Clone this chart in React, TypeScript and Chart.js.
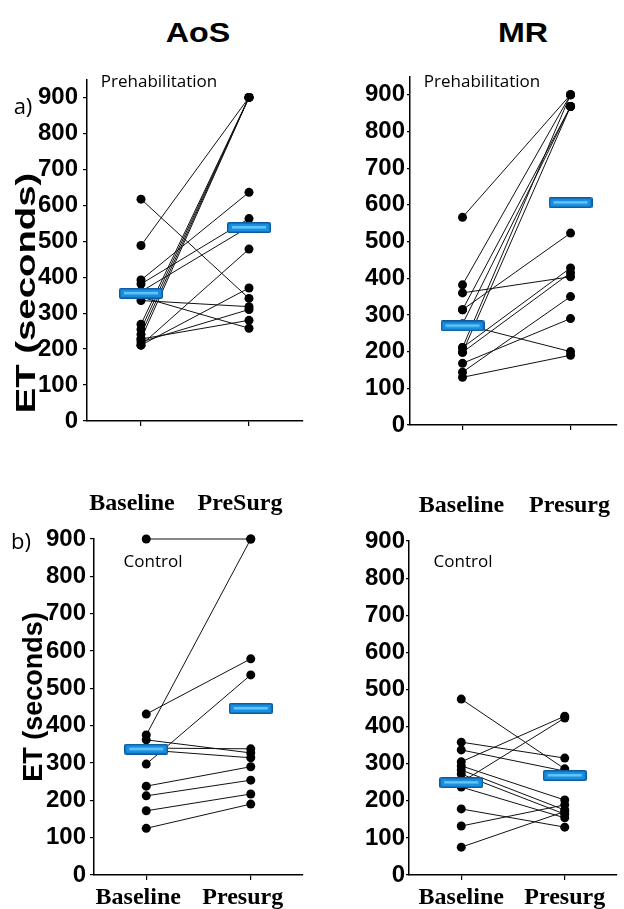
import React, { useEffect, useRef } from 'react';
import { Chart, registerables } from 'chart.js';

Chart.register(...registerables);

// ---- Data (seconds) ----
const yTickValues = [0, 100, 200, 300, 400, 500, 600, 700, 800, 900];
const labelsTop = ['Baseline', 'PreSurg'];
const labelsOther = ['Baseline', 'Presurg'];

// a) AoS – Prehabilitation
const aosPreBase = [488, 392, 617, 381, 360, 345, 335, 269, 255, 241, 228, 211, 211, 220, 228];
const aosPrePost = [900, 636, 341, 563, 540, 258, 318, 900, 900, 900, 900, 478, 370, 310, 280];
const aosPreMean = [355, 538];

// a) MR – Prehabilitation
const mrPreBase = [566, 382, 314, 275, 211, 198, 360, 314, 211, 198, 275, 144, 168, 130];
const mrPrePost = [900, 900, 868, 868, 900, 868, 404, 523, 428, 415, 200, 350, 290, 190];
const mrPreMean = [270, 606];

// b) AoS – Control
const aosCtlBase = [900, 431, 297, 375, 362, 340, 335, 238, 212, 172, 125];
const aosCtlPost = [900, 579, 536, 900, 327, 338, 314, 290, 254, 217, 190];
const aosCtlMean = [337, 446];

// b) MR – Control
const mrCtlBase = [474, 358, 337, 305, 250, 294, 283, 272, 237, 178, 132, 75];
const mrCtlPost = [286, 315, 280, 428, 423, 202, 175, 164, 154, 129, 189, 171];
const mrCtlMean = [249, 268];

function makeBarImage(): HTMLCanvasElement {
  const c = document.createElement('canvas');
  c.width = 44;
  c.height = 11;
  const g = c.getContext('2d') as CanvasRenderingContext2D;
  g.fillStyle = '#0d5a9c';
  g.beginPath();
  (g as any).roundRect ? (g as any).roundRect(0, 0, 44, 11, 2) : g.rect(0, 0, 44, 11);
  g.fill();
  g.fillStyle = '#1a8ee0';
  g.fillRect(1.5, 1.5, 41, 8);
  g.fillStyle = '#63c6f6';
  g.fillRect(5, 4, 34, 2.5);
  return c;
}

interface PanelProps {
  left: number;
  top: number;
  w: number;
  h: number;
  area: { left: number; top: number; right: number; bottom: number };
  base: number[];
  post: number[];
  mean: number[];
  labels: string[];
  xMin: number;
  xMax: number;
  yMax: number;
  yTickLen: number;
  yPad: number;
  xPad: number;
  labelOffset: number;
}

function Panel(p: PanelProps) {
  const ref = useRef<HTMLCanvasElement>(null);
  useEffect(() => {
    if (!ref.current) return;
    const img = makeBarImage();
    const pairs = p.base.map((b, i) => ({
      type: 'scatter' as const,
      data: [
        { x: 0, y: b },
        { x: 1, y: p.post[i] },
      ],
      showLine: true,
      borderColor: '#111',
      borderWidth: 1,
      pointRadius: 4.5,
      pointBackgroundColor: '#000',
      pointBorderColor: '#000',
      pointBorderWidth: 0,
      clip: false as any,
      order: 1,
    }));
    const meanDs = {
      type: 'scatter' as const,
      data: p.mean.map((m, i) => ({ x: i, y: m })),
      showLine: false,
      pointStyle: img as any,
      pointRadius: 6,
      clip: false as any,
      order: 0,
    };
    const chart = new Chart(ref.current, {
      type: 'scatter',
      data: { datasets: [meanDs, ...pairs] as any },
      options: {
        responsive: false,
        animation: false,
        events: [],
        layout: {
          padding: { left: 0, top: p.area.top, right: p.w - p.area.right, bottom: 0 },
        },
        plugins: { legend: { display: false }, tooltip: { enabled: false }, title: { display: false } },
        scales: {
          x: {
            type: 'linear',
            min: p.xMin,
            max: p.xMax,
            afterBuildTicks: (s: any) => {
              s.ticks = p.labels.map((_, i) => ({ value: i }));
            },
            afterFit: (s: any) => {
              s.height = p.h - p.area.bottom;
              s.paddingLeft = 0;
              s.paddingRight = 0;
            },
            ticks: {
              callback: (_v: any, i: number) => p.labels[i],
              font: { family: '"Liberation Serif", "Times New Roman", serif', weight: 'bold', size: 24 },
              color: '#000',
              padding: p.xPad,
              labelOffset: p.labelOffset,
              autoSkip: false,
              maxRotation: 0,
            },
            grid: { drawOnChartArea: false, tickLength: 5, color: '#000', lineWidth: 1.2 },
            border: { display: true, color: '#000', width: 1.5 },
          },
          y: {
            type: 'linear',
            min: 0,
            max: p.yMax,
            afterBuildTicks: (s: any) => {
              s.ticks = yTickValues.map((v) => ({ value: v }));
            },
            afterFit: (s: any) => {
              s.width = p.area.left;
            },
            ticks: {
              callback: (v: any) => String(v),
              font: { family: '"Liberation Sans", Arial, sans-serif', weight: 'bold', size: 24 },
              color: '#000',
              padding: p.yPad,
            },
            grid: { drawOnChartArea: false, tickLength: p.yTickLen, color: '#000', lineWidth: 1.2 },
            border: { display: true, color: '#000', width: 1.5 },
          },
        },
      },
    });
    return () => chart.destroy();
  }, []);
  return (
    <canvas
      ref={ref}
      width={p.w}
      height={p.h}
      style={{ position: 'absolute', left: p.left, top: p.top, width: p.w, height: p.h }}
    />
  );
}

function Txt(props: { x: number; y: number; text: string; font: string; sx?: number; rot?: number }) {
  const { x, y, text, font, sx = 1, rot = 0 } = props;
  return (
    <div
      style={{
        position: 'absolute',
        left: x,
        top: y,
        transform: `translate(-50%, -50%) rotate(${rot}deg) scaleX(${sx})`,
        font,
        whiteSpace: 'nowrap',
        lineHeight: 1,
        color: '#000',
      }}
    >
      {text}
    </div>
  );
}

export default function App() {
  const boldSans = 'bold 28px "Liberation Sans", Arial, sans-serif';
  const etFont = 'bold 27px "Liberation Sans", Arial, sans-serif';
  const light = '17px "Open Sans", sans-serif';
  return (
    <div
      style={{
        position: 'absolute',
        left: 0,
        top: 0,
        width: 624,
        height: 909,
        background: '#fff',
        overflow: 'hidden',
      }}
    >
      <Panel
        left={0}
        top={60}
        w={310}
        h={460}
        area={{ left: 87, top: 15, right: 304, bottom: 361 }}
        base={aosPreBase}
        post={aosPrePost}
        mean={aosPreMean}
        labels={labelsTop}
        xMin={-0.5}
        xMax={1.5}
        yMax={950}
        yTickLen={4}
        yPad={5}
        xPad={63}
        labelOffset={-9}
      />
      <Panel
        left={310}
        top={60}
        w={314}
        h={460}
        area={{ left: 100, top: 15, right: 313, bottom: 365 }}
        base={mrPreBase}
        post={mrPrePost}
        mean={mrPreMean}
        labels={labelsOther}
        xMin={-0.486}
        xMax={1.43}
        yMax={950}
        yTickLen={3}
        yPad={2}
        xPad={61}
        labelOffset={-1}
      />
      <Panel
        left={0}
        top={520}
        w={310}
        h={389}
        area={{ left: 94, top: 19, right: 306, bottom: 355 }}
        base={aosCtlBase}
        post={aosCtlPost}
        mean={aosCtlMean}
        labels={labelsOther}
        xMin={-0.5}
        xMax={1.5}
        yMax={900}
        yTickLen={4}
        yPad={4}
        xPad={3}
        labelOffset={-8}
      />
      <Panel
        left={310}
        top={520}
        w={314}
        h={389}
        area={{ left: 99, top: 21, right: 310, bottom: 355 }}
        base={mrCtlBase}
        post={mrCtlPost}
        mean={mrCtlMean}
        labels={labelsOther}
        xMin={-0.505}
        xMax={1.505}
        yMax={900}
        yTickLen={3}
        yPad={1}
        xPad={3}
        labelOffset={0}
      />
      <Txt x={198} y={33} text="AoS" font={boldSans} sx={1.15} />
      <Txt x={523} y={33} text="MR" font={boldSans} sx={1.15} />
      <Txt x={26} y={293} text="ET (seconds)" font={etFont} rot={-90} sx={1.42} />
      <Txt x={33} y={697} text="ET (seconds)" font={etFont} rot={-90} />
      <Txt x={23} y={105} text="a)" font={'22px "Open Sans", sans-serif'} />
      <Txt x={21} y={540} text="b)" font={'22px "Open Sans", sans-serif'} />
      <Txt x={159} y={80} text="Prehabilitation" font={light} />
      <Txt x={482} y={80} text="Prehabilitation" font={light} />
      <Txt x={153} y={560} text="Control" font={light} />
      <Txt x={463} y={560} text="Control" font={light} />
    </div>
  );
}
